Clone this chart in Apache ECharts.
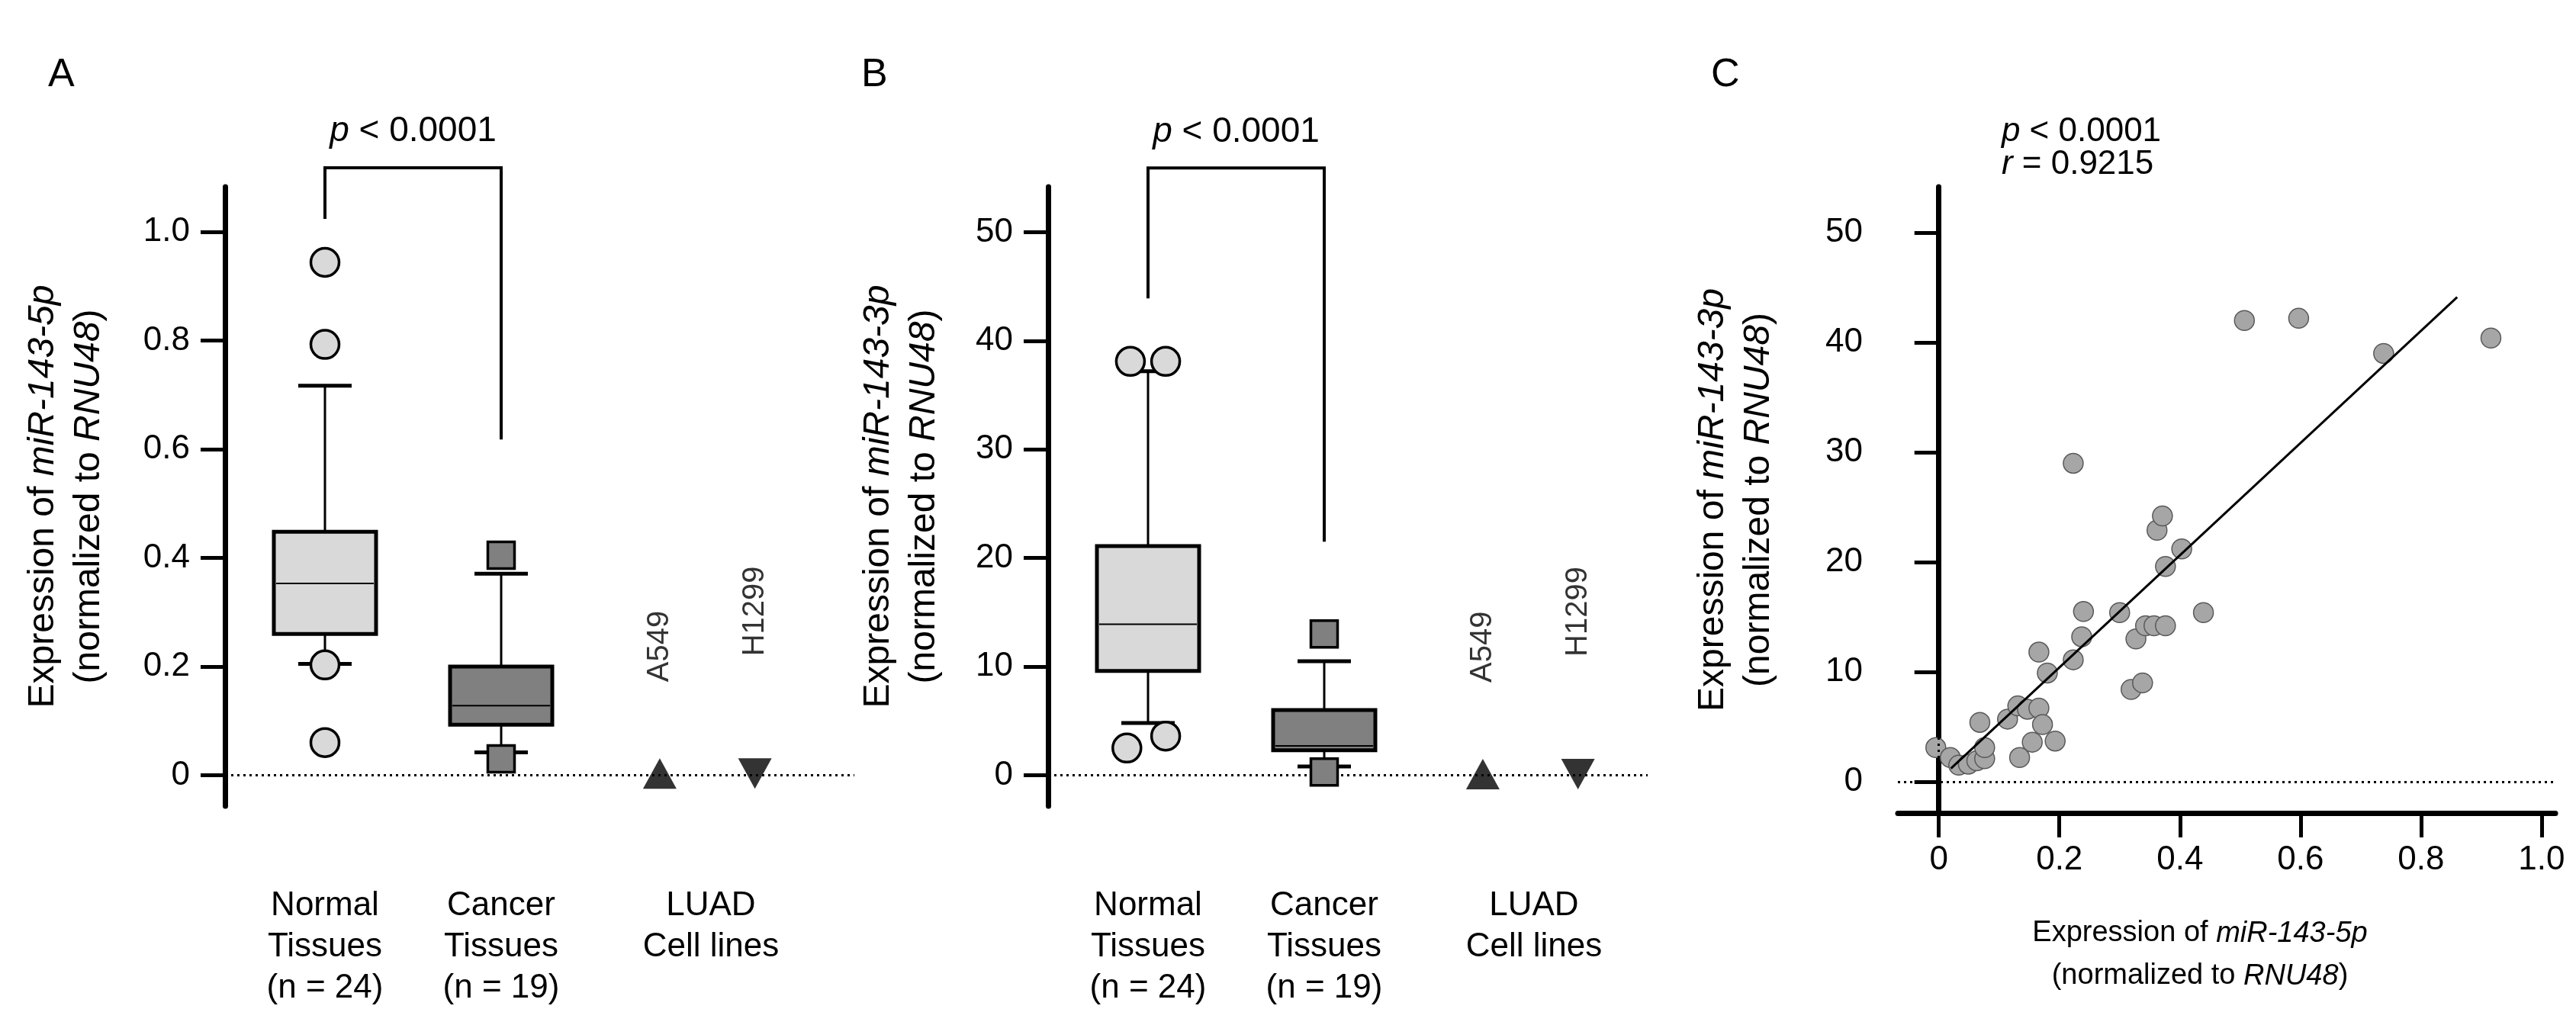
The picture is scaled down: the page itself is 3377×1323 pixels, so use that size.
<!DOCTYPE html>
<html><head><meta charset="utf-8">
<script src="https://cdn.jsdelivr.net/npm/echarts@6/dist/echarts.min.js"></script>
<style>html,body{margin:0;padding:0;background:#fff}#c{width:3377px;height:1323px}</style>
</head><body><div id="c"></div>
<script>
// ================= DATA =================
const categories = ['Normal\nTissues\n(n = 24)', 'Cancer\nTissues\n(n = 19)', 'LUAD\nCell lines'];
const cellLines = ['A549', 'H1299'];
// box stats: [lower whisker, Q1, median, Q3, upper whisker]
const box5pNormal = [0.205, 0.26, 0.353, 0.448, 0.717];
const box5pCancer = [0.042, 0.093, 0.128, 0.200, 0.371];
const out5pNormal = [0.944, 0.793, 0.203, 0.060];
const out5pCancer = [0.405, 0.030];
const cell5p = [0.003, 0.003];
const box3pNormal = [4.8, 9.6, 13.9, 21.1, 37.2];
const box3pCancer = [0.8, 2.3, 2.7, 6.0, 10.5];
const out3pNormal = [38.1, 38.1, 2.5, 3.6];
const out3pCancer = [13.0, 0.3];
const cell3p = [0.1, 0.1];
const ticks5p = [0, 0.2, 0.4, 0.6, 0.8, 1.0];
const ticks3p = [0, 10, 20, 30, 40, 50];
const pText = 'p < 0.0001';
const rText = 'r = 0.9215';
// correlation scatter (x: miR-143-5p, y: miR-143-3p)
const corrX = [-0.005,0.019,0.033,0.049,0.063,0.076,0.076,0.068,0.114,0.131,0.147,0.134,0.155,0.166,0.166,0.172,0.180,0.193,0.223,0.237,0.240,0.223,0.300,0.319,0.327,0.338,0.343,0.357,0.362,0.371,0.376,0.376,0.403,0.439,0.507,0.597,0.738,0.916];
const corrY = [3.1,2.2,1.5,1.6,1.9,2.1,3.1,5.4,5.7,6.9,6.6,2.2,3.6,6.7,11.8,5.2,9.9,3.7,11.1,13.2,15.5,29.0,15.4,8.4,13.0,9.0,14.2,14.2,22.9,24.2,19.6,14.2,21.2,15.4,42.0,42.2,39.0,40.4];
// regression line
const fitSlope = 51.1, fitIntercept = 0.18, fitRange = [0.02, 0.86];

// ================= LAYOUT =================
const FONT = 'Liberation Sans, Arial, sans-serif';
const unitPx = 231;
const catPos = [1, 2, 3.19];
const cellOff = [-0.29, 0.25];
const jitterBNormal = [-0.1, 0.1, -0.12, 0.1];
const xMin = 1 - 131 / unitPx;
const bracketA = [1, 2, 1.118, 1.024, 0.618, 1.185];
const bracketB = [1, 2, 55.9, 43.9, 21.5, 59.2];
const cellLabelDist = [100, 134];

const nameRich = (fs, lh) => ({
  n: {fontSize: fs, fontFamily: FONT, color: '#000', lineHeight: lh},
  i: {fontSize: fs, fontFamily: FONT, color: '#000', fontStyle: 'italic', lineHeight: lh}
});
const axisName = (mir) => '{n|Expression of }{i|' + mir + '}\n{n|(normalized to }{i|RNU48}{n|)}';

function yAxisCfg(gi, min, max, ticks, fmt, name, gap) {
  return {
    type: 'value', gridIndex: gi, min, max,
    name, nameLocation: 'middle', nameRotate: 90, nameGap: gap,
    nameTextStyle: {rich: nameRich(48, 60)},
    axisLine: {show: true, lineStyle: {color: '#000', width: 7}},
    axisTick: {show: true, customValues: ticks, length: 32, lineStyle: {color: '#000', width: 5}},
    axisLabel: {customValues: ticks, formatter: fmt, fontSize: 44, fontFamily: FONT, color: '#000', margin: 46},
    splitLine: {show: false}
  };
}
function xCatAxis(gi, max) {
  return {
    type: 'value', gridIndex: gi, min: xMin, max,
    axisLine: {show: false}, axisTick: {show: false}, splitLine: {show: false},
    axisLabel: {
      customValues: catPos,
      formatter: (v) => { let k = 0, d = 1e9; catPos.forEach((p, i) => { if (Math.abs(p - v) < d) { d = Math.abs(p - v); k = i; } }); return categories[k]; },
      fontSize: 44, lineHeight: 54, fontFamily: FONT, color: '#000', margin: 104
    }
  };
}
const fmt5p = (v) => v === 0 ? '0' : v.toFixed(1);
const fmtInt = (v) => String(v);

function boxSeries(gi, stats, pos, fill) {
  return {
    type: 'custom', xAxisIndex: gi, yAxisIndex: gi, clip: false, silent: true, z: 3,
    encode: {x: 0, y: [1, 2, 3, 4, 5]},
    data: [[pos].concat(stats)],
    renderItem(params, api) {
      const x = api.value(0);
      const lo = api.coord([x, api.value(1)]), q1 = api.coord([x, api.value(2)]);
      const med = api.coord([x, api.value(3)]), q3 = api.coord([x, api.value(4)]);
      const hi = api.coord([x, api.value(5)]);
      const cx = lo[0], hw = 67, cw = 35;
      const ln = (x1, y1, x2, y2, w) => ({type: 'line', shape: {x1, y1, x2, y2}, style: {stroke: '#000', lineWidth: w}});
      return {type: 'group', children: [
        ln(cx, hi[1], cx, q3[1], 3), ln(cx, q1[1], cx, lo[1], 3),
        ln(cx - cw, hi[1], cx + cw, hi[1], 5), ln(cx - cw, lo[1], cx + cw, lo[1], 5),
        {type: 'rect', shape: {x: cx - hw, y: q3[1], width: 2 * hw, height: q1[1] - q3[1]}, style: {fill, stroke: '#000', lineWidth: 5}},
        ln(cx - hw + 3, med[1], cx + hw - 3, med[1], 2)
      ]};
    }
  };
}
function bracketSeries(gi, b) {
  return {
    type: 'custom', xAxisIndex: gi, yAxisIndex: gi, clip: false, silent: true, z: 4,
    encode: {x: [0, 1], y: [2, 3, 4, 5]},
    data: [b],
    renderItem(params, api) {
      const x1 = api.value(0), x2 = api.value(1);
      const pL = api.coord([x1, api.value(3)]), pT1 = api.coord([x1, api.value(2)]);
      const pT2 = api.coord([x2, api.value(2)]), pR = api.coord([x2, api.value(4)]);
      const pt = api.coord([(x1 + x2) / 2, api.value(5)]);
      return {type: 'group', children: [
        {type: 'polyline', shape: {points: [pL, pT1, pT2, pR]}, style: {stroke: '#000', lineWidth: 4, fill: null}},
        {type: 'text', x: pt[0], y: pt[1], style: {
          text: '{i|p} < 0.0001', align: 'center', verticalAlign: 'middle',
          fontSize: 46, fontFamily: FONT, fill: '#000',
          rich: {i: {fontStyle: 'italic', fontSize: 46, fontFamily: FONT}}
        }}
      ]};
    }
  };
}
function outlierSeries(gi, pos, vals, symbol, fill, jit) {
  return {
    type: 'scatter', xAxisIndex: gi, yAxisIndex: gi, symbol, symbolSize: symbol === 'circle' ? 37 : 35, z: 5, silent: true,
    itemStyle: {color: fill, borderColor: '#000', borderWidth: 3.5, opacity: 1},
    data: vals.map((v, i) => [pos + (jit ? jit[i] : 0), v])
  };
}
function cellSeries(gi, vals) {
  return {
    type: 'scatter', xAxisIndex: gi, yAxisIndex: gi, z: 5, silent: true,
    symbol: 'triangle', symbolSize: [44, 40],
    itemStyle: {color: '#000'},
    data: vals.map((v, i) => ({
      value: [catPos[2] + cellOff[i], v], name: cellLines[i],
      symbolRotate: i === 1 ? 180 : 0,
      label: {show: true, formatter: cellLines[i], position: 'top', distance: cellLabelDist[i], rotate: 90,
        align: 'left', verticalAlign: 'middle', fontSize: 40, fontFamily: FONT, color: '#000'}
    })),
    markLine: {silent: true, symbol: 'none', label: {show: false}, animation: false,
      lineStyle: {type: [3, 5], color: '#000', width: 3}, data: [{yAxis: 0}]}
  };
}

const letterStyle = {fontSize: 52, fontWeight: 'normal', fontFamily: FONT, color: '#000'};
const option = {
  animation: false,
  backgroundColor: '#fff',
  title: [
    {text: 'A', left: 58, top: 68, textStyle: letterStyle},
    {text: 'B', left: 1124, top: 68, textStyle: letterStyle},
    {text: 'C', left: 2238, top: 68, textStyle: letterStyle}
  ],
  grid: [
    {left: 295, top: 245, width: 825, height: 821},
    {left: 1374, top: 245, width: 786, height: 821},
    {left: 2488, top: 245, width: 862, height: 821}
  ],
  xAxis: [
    xCatAxis(0, xMin + 825 / unitPx),
    xCatAxis(1, xMin + 786 / unitPx),
    {
      type: 'value', gridIndex: 2, min: -0.068, max: 1.023,
      name: axisName('miR-143-5p'), nameLocation: 'middle', nameGap: 130,
      nameTextStyle: {rich: nameRich(38, 56), padding: [0, 70, 0, 0]},
      axisLine: {show: true, onZero: false, lineStyle: {color: '#000', width: 7}},
      axisTick: {show: true, customValues: ticks5p, length: 32, lineStyle: {color: '#000', width: 5}},
      axisLabel: {customValues: ticks5p, formatter: fmt5p, fontSize: 44, fontFamily: FONT, color: '#000', margin: 40},
      splitLine: {show: false}
    }
  ],
  yAxis: [
    yAxisCfg(0, -0.057, 1.083, ticks5p, fmt5p, axisName('miR-143-5p'), 148),
    yAxisCfg(1, -2.85, 54.17, ticks3p, fmtInt, axisName('miR-143-3p'), 132),
    yAxisCfg(2, -2.85, 54.17, ticks3p, fmtInt, axisName('miR-143-3p'), 152)
  ],
  series: [
    boxSeries(0, box5pNormal, catPos[0], '#d9d9d9'),
    boxSeries(0, box5pCancer, catPos[1], '#808080'),
    outlierSeries(0, catPos[0], out5pNormal, 'circle', '#d9d9d9'),
    outlierSeries(0, catPos[1], out5pCancer, 'rect', '#808080'),
    cellSeries(0, cell5p),
    bracketSeries(0, bracketA),
    boxSeries(1, box3pNormal, catPos[0], '#d9d9d9'),
    boxSeries(1, box3pCancer, catPos[1], '#808080'),
    outlierSeries(1, catPos[0], out3pNormal, 'circle', '#d9d9d9', jitterBNormal),
    outlierSeries(1, catPos[1], out3pCancer, 'rect', '#808080'),
    cellSeries(1, cell3p),
    bracketSeries(1, bracketB),
    {
      type: 'scatter', xAxisIndex: 2, yAxisIndex: 2, symbolSize: 26, z: 4, silent: true,
      itemStyle: {color: '#a6a6a6', borderColor: '#595959', borderWidth: 1.5, opacity: 1},
      data: corrX.map((x, i) => [x, corrY[i]]),
      markLine: {silent: true, symbol: 'none', label: {show: false}, animation: false,
        lineStyle: {type: [3, 5], color: '#000', width: 3}, data: [{yAxis: 0}, {xAxis: 0}]}
    },
    {
      type: 'line', xAxisIndex: 2, yAxisIndex: 2, showSymbol: false, silent: true, z: 5,
      lineStyle: {color: '#000', width: 3},
      data: fitRange.map(x => [x, fitIntercept + fitSlope * x])
    },
    {
      type: 'custom', xAxisIndex: 2, yAxisIndex: 2, clip: false, silent: true,
      encode: {x: 0, y: 1},
      data: [[0.104, 59.2, 0], [0.104, 56.2, 1]],
      renderItem(params, api) {
        const p = api.coord([api.value(0), api.value(1)]);
        const isP = api.value(2) === 0;
        return {type: 'text', x: p[0], y: p[1], style: {
          text: isP ? '{i|p} < 0.0001' : '{i|r} = 0.9215', align: 'left', verticalAlign: 'middle',
          fontSize: 44, fontFamily: FONT, fill: '#000',
          rich: {i: {fontStyle: 'italic', fontSize: 44, fontFamily: FONT}}
        }};
      }
    }
  ]
};
const chart = echarts.init(document.getElementById('c'));
chart.setOption(option);
</script>
</body></html>
